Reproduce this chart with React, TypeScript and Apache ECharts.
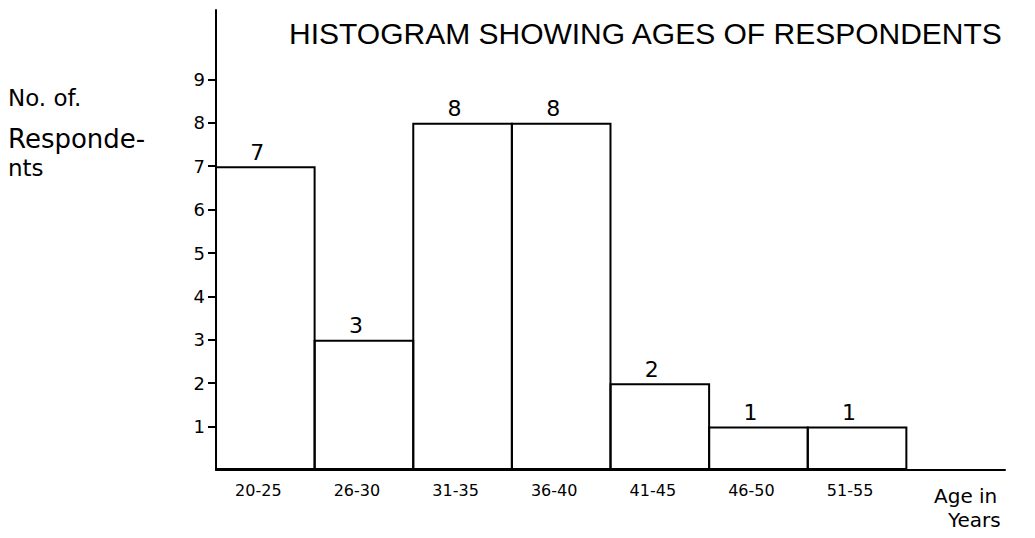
import React, { useEffect, useRef } from "react";
import * as echarts from "echarts";

const titleText = "HISTOGRAM SHOWING AGES OF RESPONDENTS";
const categories = ["20-25", "26-30", "31-35", "36-40", "41-45", "46-50", "51-55"];
const respondents = [7, 3, 8, 8, 2, 1, 1];
const yTicks = [1, 2, 3, 4, 5, 6, 7, 8, 9];
const yNameLines = ["No. of.", "Responde-", "nts"];
const xNameLines = ["Age in", "Years"];

const FONT = "'DejaVu Sans', 'Liberation Sans', sans-serif";

export default function App() {
  const ref = useRef<HTMLDivElement>(null);
  useEffect(() => {
    if (!ref.current) return;
    const chart = echarts.init(ref.current, null, { renderer: "svg" });
    chart.setOption({
      animation: false,
      backgroundColor: "#ffffff",
      title: {
        text: titleText,
        left: 284,
        top: 13,
        textStyle: {
          fontFamily: "'Liberation Sans', sans-serif",
          fontWeight: "normal",
          fontSize: 30,
          color: "#000",
        },
      },
      grid: { left: 216, right: 30, top: 10, bottom: 68, containLabel: false },
      xAxis: {
        type: "category",
        data: [...categories, ""],
        axisLine: { show: true, lineStyle: { color: "#000", width: 2 } },
        axisTick: { show: false },
        axisLabel: {
          color: "#000",
          fontFamily: FONT,
          fontSize: 16,
          margin: 12,
          interval: 0,
          padding: [0, 14, 0, 0],
        },
      },
      yAxis: {
        type: "value",
        min: 0,
        max: 10.6,
        splitLine: { show: false },
        axisLine: { show: true, lineStyle: { color: "#000", width: 2 } },
        axisTick: {
          show: true,
          length: 8,
          customValues: yTicks,
          lineStyle: { color: "#000", width: 2 },
        },
        axisLabel: {
          show: true,
          customValues: yTicks,
          color: "#000",
          fontFamily: FONT,
          fontSize: 18,
          margin: 11,
        },
      },
      series: [
        {
          type: "bar",
          data: respondents,
          barWidth: "102%",
          barCategoryGap: 0,
          itemStyle: { color: "rgba(255,255,255,0)", borderColor: "#000", borderWidth: 2 },
          label: {
            show: true,
            position: "top",
            distance: 3,
            offset: [-8, 0],
            color: "#000",
            fontFamily: FONT,
            fontSize: 22,
          },
        },
      ],
      graphic: [
        ...yNameLines.map((t, i) => ({
          type: "text",
          left: 8,
          top: [86, 126, 156][i],
          style: {
            text: t,
            fill: "#000",
            font: `${i === 1 ? 26 : 23}px ${FONT}`,
          },
        })),
        ...xNameLines.map((t, i) => ({
          type: "text",
          left: [934, 948][i],
          top: [486, 510][i],
          style: {
            text: t,
            fill: "#000",
            font: `20px ${FONT}`,
          },
        })),
      ],
    });
    return () => chart.dispose();
  }, []);
  return (
    <div
      ref={ref}
      style={{ position: "fixed", left: 0, top: 0, width: 1035, height: 538, background: "#fff" }}
    />
  );
}
